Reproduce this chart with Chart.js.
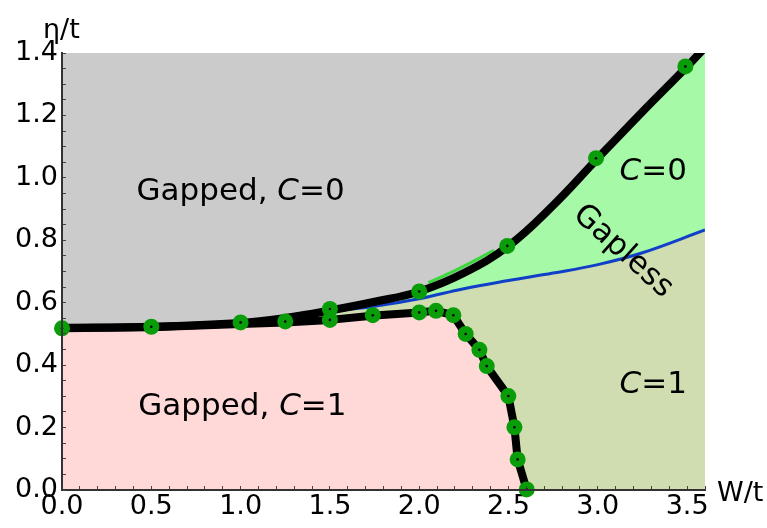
<!DOCTYPE html>
<html>
<head>
<meta charset="utf-8">
<script src="https://cdn.jsdelivr.net/npm/chart.js@4.4.0/dist/chart.umd.min.js"></script>
<style>
  html, body { margin: 0; padding: 0; background: #fff; }
</style>
</head>
<body>
<canvas id="phase" width="767" height="528"></canvas>
<script>
// upper boundary (gapped C=0 / gapless)
const upperW   = [0, 0.5, 1.0, 1.25, 1.5, 1.75, 2.0, 2.25, 2.5, 2.75, 3.0, 3.25, 3.5, 3.62];
const upperEta = [0.52, 0.523, 0.535, 0.551, 0.575, 0.603, 0.636, 0.695, 0.782, 0.912, 1.063, 1.212, 1.357, 1.43];

// lower boundary (gapped C=1 dome)
const lowerW   = [0, 0.5, 1.0, 1.25, 1.5, 1.75, 2.0, 2.094, 2.191, 2.26, 2.337, 2.378, 2.499, 2.533, 2.551, 2.602];
const lowerEta = [0.518, 0.521, 0.532, 0.537, 0.545, 0.559, 0.569, 0.574, 0.56, 0.5, 0.449, 0.397, 0.301, 0.201, 0.098, 0.0];

// C=0 / C=1 line inside the gapless phase
const blueW   = [1.55, 1.75, 2.0, 2.25, 2.5, 2.75, 3.0, 3.25, 3.6];
const blueEta = [0.575, 0.589, 0.613, 0.645, 0.671, 0.695, 0.722, 0.76, 0.833];

// thin green edge just above the upper boundary
const edgeW   = [2.05, 2.2, 2.42];
const edgeEta = [0.664, 0.703, 0.768];

// computed points
const dotW   = [0, 0.5, 1.0, 1.25, 1.5, 2.0, 2.493, 2.99, 3.49,
                1.5, 1.74, 2.0, 2.094, 2.191, 2.26, 2.337, 2.378, 2.499, 2.533, 2.551, 2.602];
const dotEta = [0.518, 0.523, 0.537, 0.54, 0.58, 0.636, 0.782, 1.063, 1.357,
                0.545, 0.56, 0.569, 0.574, 0.56, 0.5, 0.449, 0.397, 0.301, 0.201, 0.098, 0.002];

// axes
const xTickLabels = ['0.0', '0.5', '1.0', '1.5', '2.0', '2.5', '3.0', '3.5'];
const yTickLabels = ['0.0', '0.2', '0.4', '0.6', '0.8', '1.0', '1.2', '1.4'];

// region labels: [text, italic]
const regionLabels = [
    { parts: [['Gapped, ', false], ['C', true], ['=0', false]], w: 1.0, eta: 0.93, angle: 0 },
    { parts: [['Gapped, ', false], ['C', true], ['=1', false]], w: 1.01, eta: 0.24, angle: 0 },
    { parts: [['C', true], ['=0', false]], w: 3.31, eta: 0.994, angle: 0 },
    { parts: [['C', true], ['=1', false]], w: 3.31, eta: 0.311, angle: 0 },
    { parts: [['Gapless', false]], w: 3.11, eta: 0.745, angle: 42 },
];

const FONT = '"DejaVu Sans", sans-serif';

function pts(xs, ys) {
    return xs.map((x, i) => ({ x: x, y: ys[i] }));
}

function minorTicks(max, step) {
    const out = [];
    for (let i = 0; i * step <= max + 1e-9; i++) out.push({ value: +(i * step).toFixed(3) });
    return out;
}

function tickText(list, v) {
    const hit = list.find(t => Math.abs(parseFloat(t) - v) < 1e-6);
    return hit || '';
}

/**
 * ラベルを描く（C だけ斜体）
 */
function drawMixed(ctx, parts, cx, cy, size, angle) {
    const fonts = parts.map(p => (p[1] ? 'italic ' : '') + size + 'px ' + FONT);
    let total = 0;
    const widths = parts.map((p, i) => {
        ctx.font = fonts[i];
        const w = ctx.measureText(p[0]).width;
        total += w;
        return w;
    });
    ctx.save();
    ctx.translate(cx, cy);
    ctx.rotate(angle * Math.PI / 180);
    let x = -total / 2;
    parts.forEach((p, i) => {
        ctx.font = fonts[i];
        ctx.fillText(p[0], x, 0);
        x += widths[i];
    });
    ctx.restore();
}

const textPlugin = {
    id: 'phaseText',
    afterDraw(chart) {
        const { ctx, chartArea, scales: { x, y } } = chart;
        ctx.save();
        ctx.fillStyle = '#000';
        ctx.textBaseline = 'alphabetic';
        regionLabels.forEach(lab => {
            drawMixed(ctx, lab.parts, x.getPixelForValue(lab.w), y.getPixelForValue(lab.eta), 31, lab.angle);
        });
        // axis titles
        ctx.font = '27px ' + FONT;
        ctx.textAlign = 'left';
        ctx.fillText('η/t', chartArea.left - 19, chartArea.top - 15);
        ctx.fillText('W/t', chartArea.right + 12, chartArea.bottom + 11);
        ctx.restore();
    }
};

const smooth = { showLine: true, pointRadius: 0, tension: 0.4 };
const straight = { showLine: true, pointRadius: 0, tension: 0 };

new Chart(document.getElementById('phase').getContext('2d'), {
    type: 'scatter',
    data: {
        datasets: [
            // fills (higher order = further back)
            { ...smooth, data: pts(upperW, upperEta), borderWidth: 0, fill: 'end', backgroundColor: '#cbcbcb', order: 20 },
            { ...smooth, data: pts(upperW, upperEta), borderWidth: 0, fill: 'start', backgroundColor: '#a6f9a6', order: 19 },
            { ...smooth, data: pts(blueW, blueEta), borderWidth: 0, fill: 'start', backgroundColor: '#d0ddb0', order: 18 },
            { ...straight, data: pts(lowerW, lowerEta), borderWidth: 0, fill: 'start', backgroundColor: '#ffd8d8', order: 17 },
            // lines
            { ...smooth, data: pts(edgeW, edgeEta), borderColor: '#3ad83a', borderWidth: 3, fill: false, order: 10 },
            { ...smooth, data: pts(blueW, blueEta), borderColor: '#1040c8', borderWidth: 3, fill: false, order: 9 },
            { ...smooth, data: pts(upperW, upperEta), borderColor: '#000', borderWidth: 8, fill: false, order: 8 },
            { ...straight, data: pts(lowerW, lowerEta), borderColor: '#000', borderWidth: 8, borderJoinStyle: 'round', fill: false, order: 7 },
            // points
            { data: pts(dotW, dotEta), showLine: false, pointRadius: 8, pointBackgroundColor: '#0a9d0a', pointBorderWidth: 0, order: 2, clip: false },
            { data: pts(dotW, dotEta), showLine: false, pointRadius: 1.3, pointBackgroundColor: '#000', pointBorderWidth: 0, order: 1, clip: false },
        ]
    },
    options: {
        responsive: false,
        animation: false,
        events: [],
        layout: { padding: { left: 0, right: 62, top: 53, bottom: 0 } },
        plugins: { legend: { display: false }, tooltip: { enabled: false } },
        scales: {
            x: {
                type: 'linear',
                min: 0, max: 3.6,
                afterBuildTicks: s => { s.ticks = minorTicks(3.6, 0.1); },
                afterFit: s => { s.height = 38; },
                ticks: {
                    autoSkip: false, maxRotation: 0, padding: 5,
                    color: '#000', font: { family: FONT, size: 27 },
                    callback: v => tickText(xTickLabels, v)
                },
                grid: { drawOnChartArea: false, drawTicks: true, tickLength: -4, color: '#444', z: 1 },
                border: { display: true, color: '#333', width: 2, z: 1 }
            },
            y: {
                type: 'linear',
                min: 0, max: 1.4,
                afterBuildTicks: s => { s.ticks = minorTicks(1.4, 0.05); },
                afterFit: s => { s.width = 62; },
                ticks: {
                    autoSkip: false, padding: 8,
                    color: '#000', font: { family: FONT, size: 27 },
                    callback: v => tickText(yTickLabels, v)
                },
                grid: { drawOnChartArea: false, drawTicks: true, tickLength: -4, color: '#444', z: 1 },
                border: { display: true, color: '#333', width: 2, z: 1 }
            }
        }
    },
    plugins: [textPlugin]
});
</script>
</body>
</html>
